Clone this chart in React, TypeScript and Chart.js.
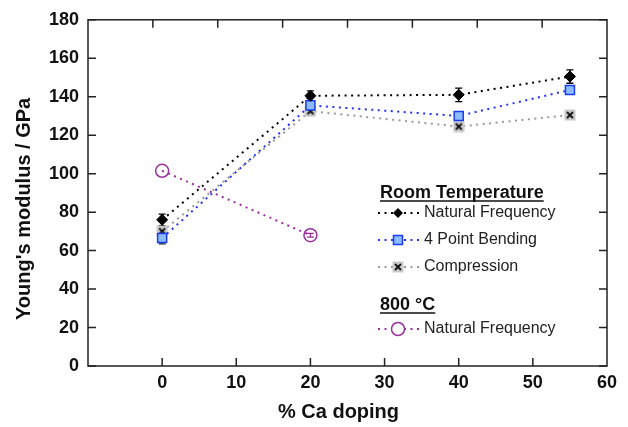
import React, { useEffect, useRef } from 'react';
import { Chart, registerables } from 'chart.js';

Chart.register(...registerables);

// ---- data ----
const doping = [0, 20, 40, 55];
const naturalFrequency = [76, 140.5, 141, 150.5];
const naturalFrequencyErr = [3, 2.5, 3.5, 3.5];
const fourPointBending = [66.5, 135.5, 130, 143.5];
const fourPointBendingErr = [3, 2, 2, 1.5];
const compression = [70, 132.5, 124.5, 130.5];
const compressionErr = [1.5, 1.5, 1.5, 1];
const doping800 = [0, 20];
const naturalFrequency800 = [101.5, 68];
const naturalFrequency800Err = [0, 1];

const xMin = -10;
const xMax = 60;
const xStep = 10;
const yMin = 0;
const yMax = 180;
const yStep = 20;

// ---- text ----
const yTitle = "Young's modulus / GPa";
const xTitle = '% Ca doping';
const headingRT = 'Room Temperature';
const heading800 = '800 \u00B0C';
const labelNF = 'Natural Frequency';
const labelPB = '4 Point Bending';
const labelComp = 'Compression';
const labelNF800 = 'Natural Frequency';

const FONT = '"Liberation Sans", Arial, Helvetica, sans-serif';

const colNF = '#000000';
const colPB = '#2233ff';
const colPBFill = '#8cbcff';
const colPBBorder = '#1a3cf0';
const colComp = '#9a9a9a';
const col800 = '#9a2f9e';
const DASH = [2, 4.5];

function makeCrossMarker(): HTMLCanvasElement {
  const c = document.createElement('canvas');
  c.width = 12;
  c.height = 12;
  const g = c.getContext('2d')!;
  g.fillStyle = '#c9c9c9';
  g.fillRect(0.5, 0.5, 11, 11);
  g.strokeStyle = '#111';
  g.lineWidth = 1.8;
  g.beginPath();
  g.moveTo(3, 3);
  g.lineTo(9, 9);
  g.moveTo(9, 3);
  g.lineTo(3, 9);
  g.stroke();
  return c;
}

const toPts = (xs: number[], ys: number[]) => xs.map((x, i) => ({ x, y: ys[i] }));

export default function App() {
  const ref = useRef<HTMLCanvasElement>(null);

  useEffect(() => {
    const canvas = ref.current!;
    const crossMarker = makeCrossMarker();
    const errors = [naturalFrequencyErr, fourPointBendingErr, compressionErr, naturalFrequency800Err];
    const errColors = ['#000', '#222', '#333', col800];

    const errorBars = {
      id: 'errorBars',
      beforeDatasetsDraw(chart: any) {
        const ctx = chart.ctx;
        const ys = chart.scales.y;
        ctx.save();
        chart.data.datasets.forEach((ds: any, di: number) => {
          const meta = chart.getDatasetMeta(di);
          const err = errors[di];
          meta.data.forEach((pt: any, i: number) => {
            const e = err[i];
            if (!e) return;
            const v = ds.data[i].y;
            const yTop = ys.getPixelForValue(v + e);
            const yBot = ys.getPixelForValue(v - e);
            ctx.strokeStyle = errColors[di];
            ctx.lineWidth = 1.3;
            ctx.beginPath();
            ctx.moveTo(pt.x, yTop);
            ctx.lineTo(pt.x, yBot);
            ctx.moveTo(pt.x - 3.5, yTop);
            ctx.lineTo(pt.x + 3.5, yTop);
            ctx.moveTo(pt.x - 3.5, yBot);
            ctx.lineTo(pt.x + 3.5, yBot);
            ctx.stroke();
          });
        });
        ctx.restore();
      },
    };

    const frame = {
      id: 'frame',
      afterDraw(chart: any) {
        const ctx = chart.ctx;
        const { left, right, top, bottom } = chart.chartArea;
        const xs = chart.scales.x;
        const ys = chart.scales.y;
        const x2 = chart.scales.x2;
        ctx.save();
        ctx.strokeStyle = '#222';
        ctx.lineWidth = 1.5;
        ctx.strokeRect(left, top, right - left, bottom - top);
        const tl = 8;
        ctx.beginPath();
        ys.ticks.forEach((t: any) => {
          const y = ys.getPixelForValue(t.value);
          ctx.moveTo(left, y);
          ctx.lineTo(left + tl, y);
          ctx.moveTo(right, y);
          ctx.lineTo(right - tl, y);
        });
        xs.ticks.forEach((t: any) => {
          if (t.value <= xMin || t.value >= xMax) return;
          const x = xs.getPixelForValue(t.value);
          ctx.moveTo(x, bottom);
          ctx.lineTo(x, bottom - tl);
        });
        x2.ticks.forEach((t: any) => {
          if (t.value <= x2.min || t.value >= x2.max) return;
          const x = x2.getPixelForValue(t.value);
          ctx.moveTo(x, top);
          ctx.lineTo(x, top + tl);
        });
        ctx.stroke();

        // axis titles
        ctx.fillStyle = '#111';
        ctx.font = `bold 20px ${FONT}`;
        ctx.textAlign = 'center';
        ctx.textBaseline = 'middle';
        ctx.fillText(xTitle, (left + right) / 2 - 9, 412);
        ctx.translate(24, (top + bottom) / 2 + 16);
        ctx.rotate(-Math.PI / 2);
        ctx.fillText(yTitle, 0, 0);
        ctx.restore();
      },
    };

    const legend = {
      id: 'customLegend',
      afterDraw(chart: any) {
        const ctx = chart.ctx;
        const hx = 380;
        ctx.save();
        ctx.fillStyle = '#111';
        ctx.strokeStyle = '#111';
        ctx.textAlign = 'left';
        ctx.textBaseline = 'alphabetic';
        ctx.font = `bold 18px ${FONT}`;
        const heading = (txt: string, y: number) => {
          ctx.fillText(txt, hx, y);
          const w = ctx.measureText(txt).width;
          ctx.lineWidth = 1.3;
          ctx.beginPath();
          ctx.moveTo(hx, y + 3);
          ctx.lineTo(hx + w, y + 3);
          ctx.stroke();
        };
        heading(headingRT, 198);
        heading(heading800, 310);

        const item = (y: number, color: string, marker: string, txt: string) => {
          ctx.save();
          ctx.strokeStyle = color;
          ctx.lineWidth = 2;
          ctx.setLineDash(DASH);
          ctx.beginPath();
          ctx.moveTo(378, y);
          ctx.lineTo(419, y);
          ctx.stroke();
          ctx.restore();
          const mx = 398;
          ctx.save();
          if (marker === 'diamond') {
            ctx.fillStyle = '#000';
            ctx.beginPath();
            ctx.moveTo(mx - 5, y);
            ctx.lineTo(mx, y - 5);
            ctx.lineTo(mx + 5, y);
            ctx.lineTo(mx, y + 5);
            ctx.closePath();
            ctx.fill();
          } else if (marker === 'square') {
            ctx.fillStyle = colPBFill;
            ctx.strokeStyle = colPBBorder;
            ctx.lineWidth = 1.5;
            ctx.fillRect(mx - 4.5, y - 4.5, 9, 9);
            ctx.strokeRect(mx - 4.5, y - 4.5, 9, 9);
          } else if (marker === 'cross') {
            ctx.drawImage(crossMarker, mx - 6, y - 6);
          } else {
            ctx.fillStyle = '#fff';
            ctx.strokeStyle = col800;
            ctx.lineWidth = 1.5;
            ctx.beginPath();
            ctx.arc(mx, y, 6.5, 0, Math.PI * 2);
            ctx.fill();
            ctx.stroke();
          }
          ctx.restore();
          ctx.fillStyle = '#222';
          ctx.font = `16px ${FONT}`;
          ctx.textBaseline = 'middle';
          ctx.fillText(txt, 424, y);
        };
        item(213, colNF, 'diamond', labelNF);
        item(240, colPB, 'square', labelPB);
        item(267, colComp, 'cross', labelComp);
        item(329, col800, 'circle', labelNF800);
        ctx.restore();
      },
    };

    const tickFont = { family: FONT, size: 18, weight: 'bold' as const };

    const chart = new Chart(canvas, {
      type: 'line',
      data: {
        datasets: [
          {
            label: labelNF,
            data: toPts(doping, naturalFrequency),
            borderColor: colNF,
            backgroundColor: colNF,
            borderWidth: 2,
            borderDash: DASH,
            pointStyle: 'rectRot',
            pointRadius: 5.5,
            pointBackgroundColor: '#000',
            pointBorderColor: '#000',
            pointBorderWidth: 1,
          },
          {
            label: labelPB,
            data: toPts(doping, fourPointBending),
            borderColor: colPB,
            backgroundColor: colPBFill,
            borderWidth: 2,
            borderDash: DASH,
            pointStyle: 'rect',
            pointRadius: 6.4,
            pointBackgroundColor: colPBFill,
            pointBorderColor: colPBBorder,
            pointBorderWidth: 1.5,
          },
          {
            label: labelComp,
            data: toPts(doping, compression),
            borderColor: colComp,
            backgroundColor: colComp,
            borderWidth: 2,
            borderDash: DASH,
            pointStyle: crossMarker as any,
            pointRadius: 6,
          },
          {
            label: labelNF800,
            data: toPts(doping800, naturalFrequency800),
            borderColor: col800,
            backgroundColor: 'rgba(0,0,0,0)',
            borderWidth: 2,
            borderDash: DASH,
            pointStyle: 'circle',
            pointRadius: 6.5,
            pointBackgroundColor: 'rgba(255,255,255,0)',
            pointBorderColor: col800,
            pointBorderWidth: 1.5,
          },
        ],
      },
      options: {
        animation: false,
        responsive: false,
        maintainAspectRatio: false,
        layout: { padding: { top: 18, right: 21, left: 0, bottom: 0 } },
        plugins: { legend: { display: false }, tooltip: { enabled: false } },
        scales: {
          x: {
            type: 'linear',
            position: 'bottom',
            min: xMin,
            max: xMax,
            ticks: {
              stepSize: xStep,
              font: tickFont,
              color: '#111',
              padding: 6,
              maxRotation: 0,
              callback: (v: any) => (v === xMin ? '' : String(v)),
            },
            grid: { display: false, drawTicks: false },
            border: { display: false },
            afterFit: (s: any) => {
              s.height = 61;
            },
          },
          y: {
            type: 'linear',
            min: yMin,
            max: yMax,
            ticks: { stepSize: yStep, font: tickFont, color: '#111', padding: 9 },
            grid: { display: false, drawTicks: false },
            border: { display: false },
            afterFit: (s: any) => {
              s.width = 88;
            },
          },
          x2: {
            type: 'linear',
            position: 'top',
            min: 0,
            max: 8,
            display: false,
            ticks: { stepSize: 1 },
          },
        },
      },
      plugins: [errorBars, frame, legend],
    });
    return () => chart.destroy();
  }, []);

  return (
    <div style={{ position: 'absolute', left: 0, top: 0, width: 628, height: 427, background: '#fff' }}>
      <canvas ref={ref} width={628} height={427} style={{ display: 'block' }} />
    </div>
  );
}
